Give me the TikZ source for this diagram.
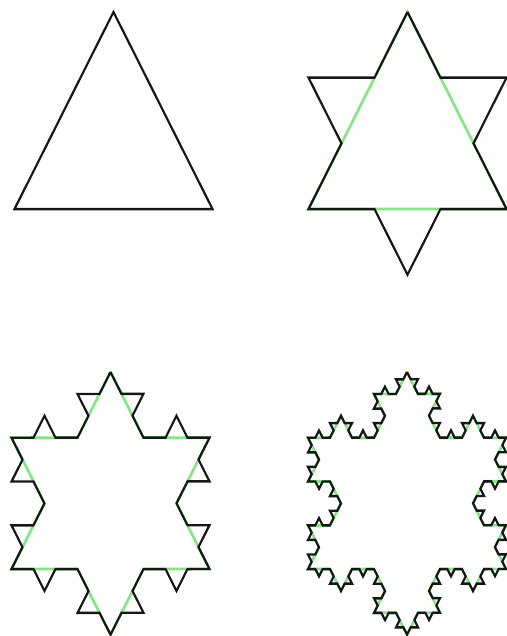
\documentclass[tikz,border=0pt]{standalone}
\usepackage{xcolor}
\definecolor{ink}{HTML}{161616}
\definecolor{leaf}{HTML}{80E880}
\usetikzlibrary{decorations.fractals}

\tikzset{
  edge/.style={ink, line width=2.1pt},
  oldedge/.style={leaf, line width=2.5pt},
  stage/.style={transform canvas={shift={#1}, yscale=1.149}},
  decoration=Koch snowflake
}
% starting triangle, apex at the origin, drawn clockwise
\newcommand{\seedtri}{(0,0) -- (99,171.5) -- (-99,171.5) -- cycle}

\begin{document}
\begin{tikzpicture}[x=1pt,y=-1pt]
  \useasboundingbox (0,0) rectangle (506,636);
  % stage 0
  \begin{scope}[stage={(113.5,12)}]
    \draw[edge] \seedtri;
  \end{scope}
  % stage 1
  \begin{scope}[stage={(407.5,12)}]
    \draw[oldedge] \seedtri;
    \draw[edge] decorate{\seedtri};
  \end{scope}
  % stage 2
  \begin{scope}[stage={(110.5,372)}]
    \draw[oldedge] decorate{\seedtri};
    \draw[edge] decorate{decorate{\seedtri}};
  \end{scope}
  % stage 3
  \begin{scope}[stage={(407,372)}]
    \draw[oldedge] decorate{decorate{\seedtri}};
    \draw[edge] decorate{decorate{decorate{\seedtri}}};
  \end{scope}
\end{tikzpicture}
\end{document}
